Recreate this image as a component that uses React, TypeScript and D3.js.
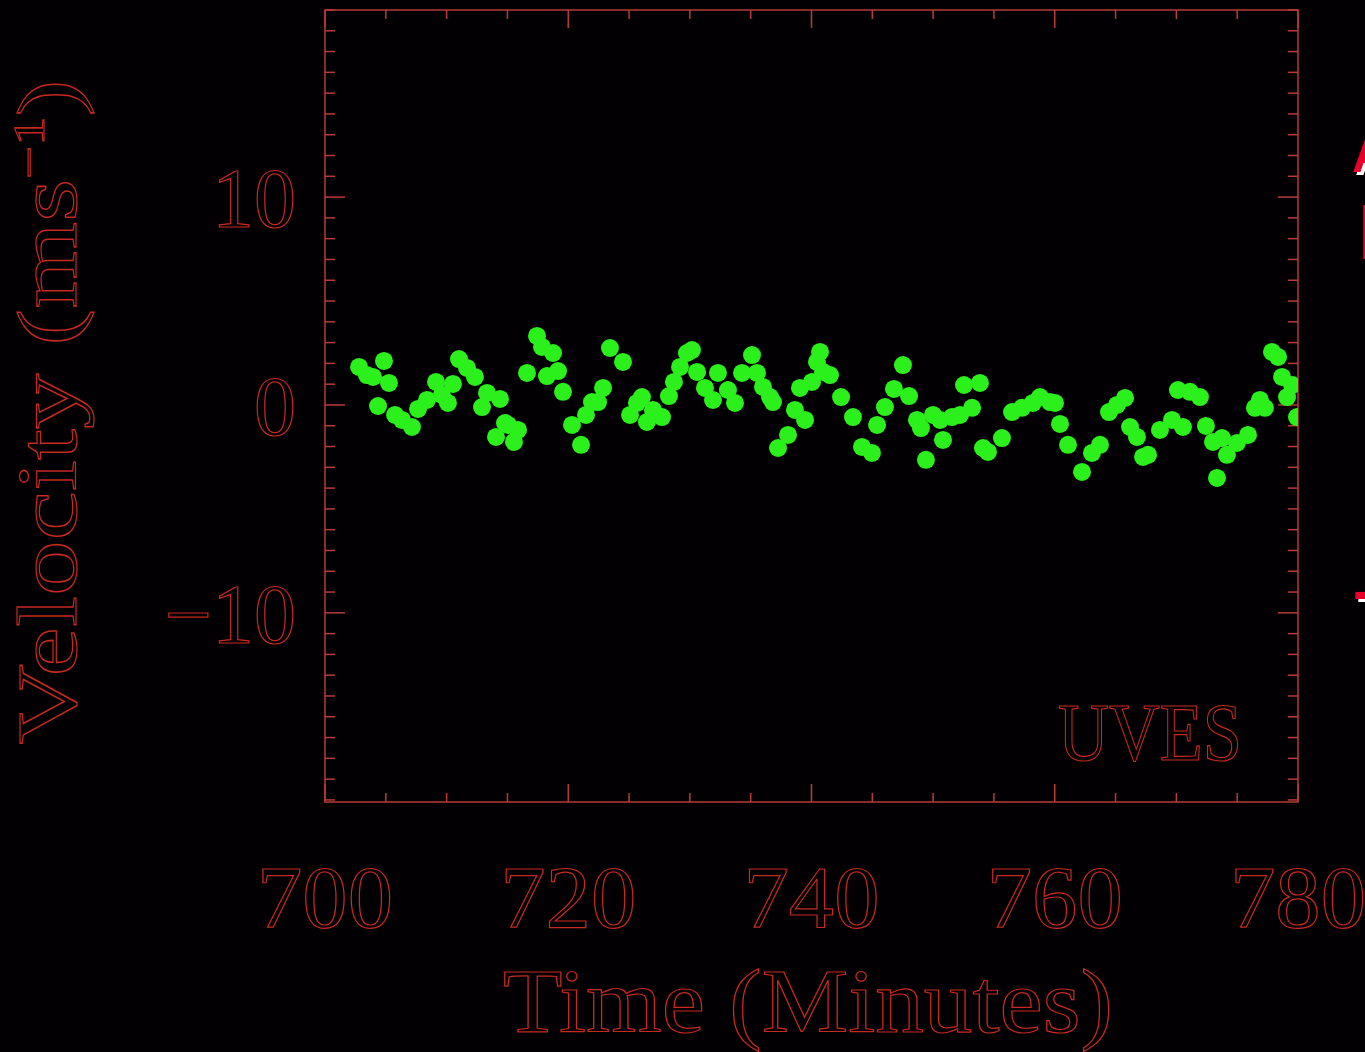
import React from 'react';
import * as d3 from 'd3';

// UVES radial velocity residuals
const times = [
  702.8, 703.45, 703.95, 704.85, 705.26, 704.36, 705.76, 706.33, 707.15, 707.65,
  708.39, 709.13, 709.62, 710.11, 710.52, 711.02, 711.68, 712.33, 712.91, 713.32,
  714.06, 714.39, 714.8, 715.05, 715.54, 715.87, 716.61, 717.43, 717.84, 718.25,
  718.75, 719.16, 719.57, 720.31, 721.05, 721.46, 721.95, 722.45, 722.86, 723.43,
  724.5, 725.08, 725.65, 726.06, 726.47, 726.97, 727.71, 728.28, 728.69, 729.19,
  729.76, 730.17, 730.59, 731.24, 731.9, 732.31, 733.13, 733.71, 734.29, 735.11,
  735.52, 736.01, 736.59, 736.83, 737.25, 738.07, 738.64, 739.05, 739.47, 740.04,
  740.45, 740.7, 740.95, 741.52, 742.43, 743.41, 744.15, 744.97, 745.39, 746.04,
  746.78, 747.52, 748.02, 748.67, 749.0, 749.41, 749.99, 750.57, 750.81, 751.55,
  752.21, 752.54, 753.2, 753.85, 754.1, 754.51, 755.66, 756.49, 757.31, 758.21,
  758.79, 759.61, 760.02, 760.43, 761.09, 762.24, 763.06, 763.72, 764.46, 765.12,
  765.78, 766.19, 766.76, 767.26, 767.67, 768.65, 769.64, 770.13, 770.54, 771.12,
  771.94, 772.43, 773.01, 773.34, 773.75, 774.16, 774.98, 775.89, 776.46, 776.87,
  777.28, 777.86, 778.36, 778.69, 779.1, 779.51, 779.92,
];
const velocities = [
  1.83, 1.44, 1.35, 2.12, 1.06, -0.05, -0.48, -0.72, -1.06, -0.19,
  0.24, 1.11, 0.48, 0.1, 1.01, 2.21, 1.78, 1.35, -0.1, 0.58,
  -1.54, 0.29, -0.87, -0.96, -1.78, -1.2, 1.54, 3.32, 2.79, 1.39,
  2.5, 1.63, 0.63, -0.96, -1.92, -0.48, 0.14, 0.14, 0.82, 2.74,
  2.07, -0.48, 0.1, 0.38, -0.82, -0.24, -0.58, 0.43, 1.11, 1.83,
  2.5, 2.64, 1.59, 0.82, 0.24, 1.54, 0.72, 0.1, 1.54, 2.4,
  1.54, 0.87, 0.38, 0.14, -2.07, -1.44, -0.24, 0.82, -0.72, 1.11,
  2.07, 2.55, 1.59, 1.44, 0.38, -0.58, -2.02, -2.31, -0.96, -0.1,
  0.77, 1.92, 0.43, -0.72, -1.11, -2.64, -0.48, -0.72, -1.68, -0.58,
  -0.48, 0.96, -0.14, 1.06, -2.07, -2.26, -1.59, -0.34, -0.14, 0.1,
  0.38, 0.14, 0.1, -0.91, -1.92, -3.22, -2.31, -1.92, -0.34, 0,
  0.34, -1.06, -1.54, -2.5, -2.4, -1.2, -0.72, 0.72, -1.06, 0.63,
  0.38, -1.01, -1.78, -3.51, -1.59, -2.4, -1.83, -1.44, -0.14, 0.24,
  -0.14, 2.55, 2.31, 1.35, 0.38, 0.96, -0.58,
];
const xTickLabels = [700, 720, 740, 760, 780];
const yTickLabels = [-10, 0, 10];

const W = 1365;
const H = 1052;
const frame = { left: 325, right: 1298, top: 10, bottom: 802 };
const red = '#c62a22';
const frameRed = '#b83a3a';
const serif = '"Liberation Serif", "DejaVu Serif", serif';

const App = () => {
  const x = d3.scaleLinear().domain([700, 780]).range([frame.left, frame.right]);
  const y = d3.scaleLinear().domain([-19.1, 19]).range([frame.bottom, frame.top]);

  const xMinor = d3.range(700, 781, 5);
  const yMinor = d3.range(-19, 20, 1);

  const outlined = {
    fill: 'none',
    stroke: red,
    strokeWidth: 1.2,
    fontFamily: serif,
  };

  return (
    <div style={{ position: 'fixed', left: 0, top: 0, width: W, height: H, background: '#000' }}>
      <svg width={W} height={H} style={{ display: 'block' }}>
        <rect width={W} height={H} fill="#020002" />
        <defs>
          <clipPath id="plot">
            <rect x={frame.left} y={frame.top} width={frame.right - frame.left} height={frame.bottom - frame.top} />
          </clipPath>
        </defs>

        {/* ticks on all four sides */}
        <g stroke={frameRed} strokeWidth={1.5}>
          {xMinor.map(v => {
            const len = v % 20 === 0 ? 18 : 9;
            return (
              <g key={'x' + v}>
                <line x1={x(v)} x2={x(v)} y1={frame.top} y2={frame.top + len} />
                <line x1={x(v)} x2={x(v)} y1={frame.bottom} y2={frame.bottom - len} />
              </g>
            );
          })}
          {yMinor.map(v => {
            const len = v % 10 === 0 ? 20 : 10;
            return (
              <g key={'y' + v}>
                <line x1={frame.left} x2={frame.left + len} y1={y(v)} y2={y(v)} />
                <line x1={frame.right} x2={frame.right - len} y1={y(v)} y2={y(v)} />
              </g>
            );
          })}
          <rect x={frame.left} y={frame.top} width={frame.right - frame.left} height={frame.bottom - frame.top} fill="none" />
        </g>

        {/* data points */}
        <g clipPath="url(#plot)">
          {times.map((t, i) => (
            <circle key={i} cx={x(t)} cy={y(velocities[i])} r={9} fill="#2bf01c" />
          ))}
        </g>

        {/* y tick labels */}
        {yTickLabels.map(v => (
          <text key={v} x={296} y={y(v) + 30} textAnchor="end" fontSize={84} style={outlined}>
            {v < 0 ? '\u2212' + Math.abs(v) : String(v)}
          </text>
        ))}

        {/* x tick labels */}
        {xTickLabels.map(v => (
          <text key={v} x={x(v)} y={927} textAnchor="middle" fontSize={88} style={outlined}
            textLength={136} lengthAdjust="spacingAndGlyphs">
            {v}
          </text>
        ))}

        {/* axis titles */}
        <text x={808} y={1032} textAnchor="middle" fontSize={90} style={outlined}
          textLength={610} lengthAdjust="spacingAndGlyphs">
          Time (Minutes)
        </text>
        <text transform="translate(76,412) rotate(-90)" textAnchor="middle" fontSize={84} style={outlined}
          textLength={665} lengthAdjust="spacingAndGlyphs">
          Velocity (ms<tspan dy={-32} fontSize={44}>{'\u22121'}</tspan><tspan dy={32}>)</tspan>
        </text>

        <text x={1242} y={760} textAnchor="end" fontSize={82} style={outlined}
          textLength={184} lengthAdjust="spacingAndGlyphs">
          UVES
        </text>

        {/* cut-off text of the slide behind */}
        <g fontFamily='"Liberation Sans", Arial, sans-serif' fontWeight="bold">
          <text x={1355} y={175} fontSize={50} fill="#fff">A</text>
          <text x={1352} y={172} fontSize={50} fill="#e6002a">A</text>
          <text x={1362} y={262} fontSize={78} fill="#fff">B</text>
          <text x={1358} y={259} fontSize={78} fill="#e6002a">B</text>
          <text x={1356} y={614} fontSize={60} fill="#fff">-</text>
          <text x={1353} y={611} fontSize={60} fill="#e6002a">-</text>
        </g>
      </svg>
    </div>
  );
};

export default App;
